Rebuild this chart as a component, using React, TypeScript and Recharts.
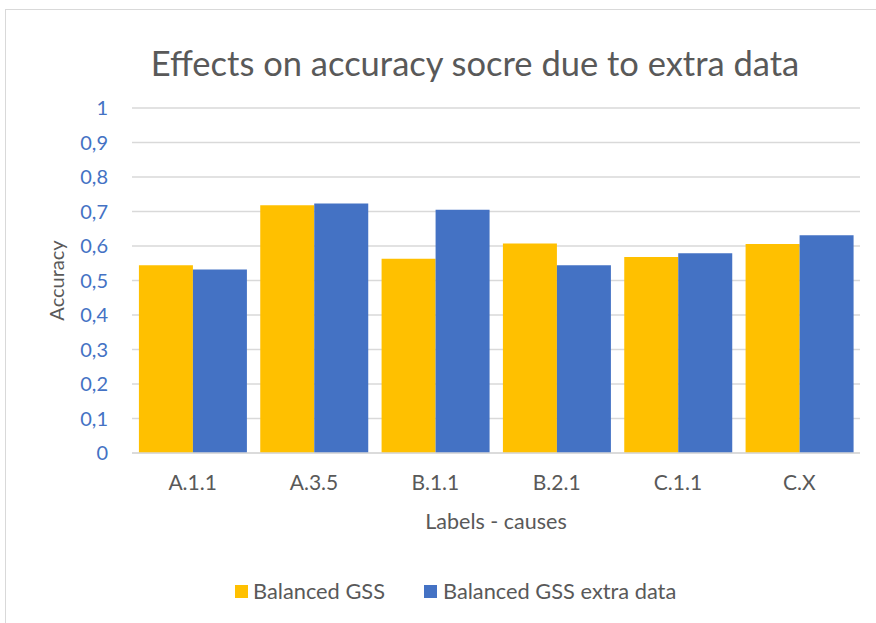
import { BarChart, Bar, XAxis, YAxis, CartesianGrid } from "recharts";

// ---------------------------------------------------------------------------
// Data
// ---------------------------------------------------------------------------
const categories = ["A.1.1", "A.3.5", "B.1.1", "B.2.1", "C.1.1", "C.X"];
const balancedGss = [0.544, 0.718, 0.563, 0.607, 0.568, 0.606];
const balancedGssExtra = [0.532, 0.723, 0.705, 0.544, 0.579, 0.631];
const yTicks = [0, 0.1, 0.2, 0.3, 0.4, 0.5, 0.6, 0.7, 0.8, 0.9, 1];

const rows = categories.map((c, i) => ({
  label: c,
  gss: balancedGss[i],
  extra: balancedGssExtra[i],
}));

const YELLOW = "#FFC000";
const BLUE = "#4472C4";
const GREY_TEXT = "#595959";
const FONT = "Lato, 'Open Sans', sans-serif";

// 0.1 -> "0,1" like the Excel locale in the original
const fmtTick = (v: number) => String(Math.round(v * 10) / 10).replace(".", ",");

export default function App() {
  return (
    <div
      style={{
        position: "absolute",
        left: 0,
        top: 0,
        width: 876,
        height: 623,
        background: "#fff",
        fontFamily: FONT,
        overflow: "hidden",
      }}
    >
      {/* chart frame (only left/top edges are in view) */}
      <div
        style={{
          position: "absolute",
          left: 5,
          top: 9,
          width: 900,
          height: 700,
          borderLeft: "1px solid #d9d9d9",
          borderTop: "1px solid #d9d9d9",
        }}
      />

      <div
        style={{
          position: "absolute",
          left: 0,
          width: 950,
          top: 43,
          textAlign: "center",
          fontSize: 34.5,
          color: GREY_TEXT,
          lineHeight: "40px",
        }}
      >
        Effects on accuracy socre due to extra data
      </div>

      <div style={{ position: "absolute", left: 0, top: 0 }}>
        <BarChart
          width={876}
          height={623}
          data={rows}
          margin={{ top: 108, right: 16, bottom: 80, left: 40 }}
          barCategoryGap="5.7%"
          barGap={0}
        >
          <CartesianGrid vertical={false} stroke="#d9d9d9" strokeWidth={1.3} />
          <XAxis
            dataKey="label"
            height={90}
            tickLine={false}
            axisLine={{ stroke: "#d9d9d9", strokeWidth: 1.5 }}
            tickMargin={16}
            tick={{ fontSize: 21, fill: GREY_TEXT, fontFamily: FONT }}
            label={{
              value: "Labels - causes",
              position: "insideBottom",
              offset: 14,
              fontSize: 21.5,
              fill: GREY_TEXT,
              fontFamily: FONT,
            }}
          />
          <YAxis
            width={92}
            domain={[0, 1]}
            ticks={yTicks}
            interval={0}
            tickLine={false}
            axisLine={false}
            tickMargin={18}
            tickFormatter={fmtTick}
            tick={{ fontSize: 20, fill: BLUE, fontFamily: FONT }}
            label={{
              value: "Accuracy",
              angle: -90,
              position: "insideLeft",
              dx: 12,
              fontSize: 20,
              fill: GREY_TEXT,
              fontFamily: FONT,
              style: { textAnchor: "middle" },
            }}
          />
          <Bar dataKey="gss" fill={YELLOW} isAnimationActive={false} />
          <Bar dataKey="extra" fill={BLUE} isAnimationActive={false} />
        </BarChart>
      </div>

      {/* legend */}
      <div
        style={{
          position: "absolute",
          left: 235,
          top: 577,
          display: "flex",
          alignItems: "center",
          fontSize: 21.8,
          color: GREY_TEXT,
          lineHeight: "28px",
        }}
      >
        <span style={{ display: "inline-block", width: 13, height: 13, background: YELLOW, marginRight: 5 }} />
        <span style={{ marginRight: 39 }}>Balanced GSS</span>
        <span style={{ display: "inline-block", width: 13, height: 13, background: BLUE, marginRight: 6 }} />
        <span>Balanced GSS extra data</span>
      </div>
    </div>
  );
}
